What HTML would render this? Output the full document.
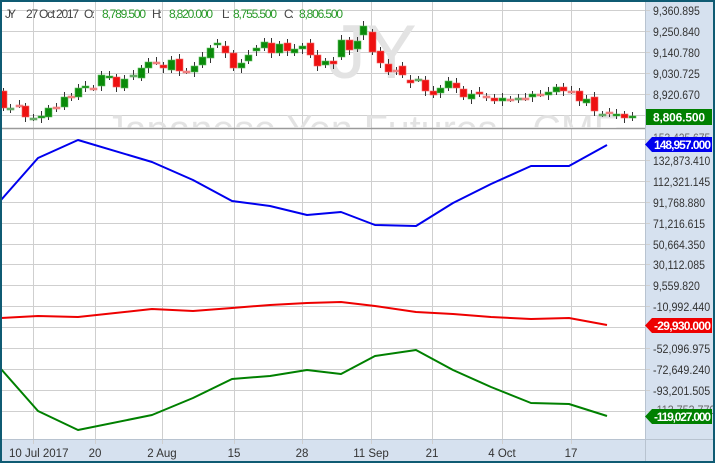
<!DOCTYPE html>
<html><head><meta charset="utf-8"><style>
html,body{margin:0;padding:0;background:#fff}
svg{display:block;font-family:"Liberation Sans",sans-serif}
</style></head><body>
<svg id="s" width="715" height="463" viewBox="0 0 715 463" xmlns="http://www.w3.org/2000/svg">
<rect x="0" y="0" width="715" height="463" fill="#fff"/>
<rect x="645" y="0" width="70" height="463" fill="#d6e1ef"/>
<rect x="0" y="439" width="715" height="24" fill="#d6e1ef"/>
<g id="grid" stroke="#cfcfcf" stroke-width="1"></g>
<line x1="0" y1="128.5" x2="645" y2="128.5" stroke="#9a9a9a" stroke-width="1.5"/>
<line x1="645.5" y1="0" x2="645.5" y2="463" stroke="#b8c3d0"/>
<line x1="0" y1="439.5" x2="715" y2="439.5" stroke="#b8c3d0"/>
<clipPath id="tp"><rect x="0" y="0" width="645" height="128"/></clipPath>
<g clip-path="url(#tp)" fill="#e3e3e3">
<text x="328" y="78" font-size="76">JY</text>
<text x="105" y="143" font-size="40" textLength="515" lengthAdjust="spacingAndGlyphs">Japanese Yen Futures - CME</text>
</g>
<g id="candles"></g>
<g fill="none" stroke-width="2" stroke-linejoin="round">
<polyline stroke="#0000ee" points="1,200 38,158 78,140 152,162 193,180 232,201 270,206 307,215 341,212 375,225 416,226 453,203 491,184 531,166 569,166 607,145"/>
<polyline stroke="#ee0000" points="1,318 38,316 78,317 152,309 193,311 232,308 270,305 307,303 341,302 375,306 416,312 453,314 491,317 531,319 569,318 607,325"/>
<polyline stroke="#008000" points="1,369 38,411 78,430 152,415 193,398 232,379 270,376 307,370 341,374 375,356 416,350 453,370 491,387 531,403 569,404 607,416"/>
</g>
<g id="labels" font-size="11.5" fill="#333"></g>
<g font-size="12" lengthAdjust="spacingAndGlyphs">
<text x="5" y="18" fill="#444" textLength="11">JY</text>
<text x="26" y="18" fill="#444" textLength="53">27 Oct 2017</text>
<text x="84" y="18" fill="#444" textLength="11">O:</text>
<text x="102" y="18" fill="#2a9a2a" textLength="44">8,789.500</text>
<text x="152" y="18" fill="#444" textLength="10">H:</text>
<text x="169" y="18" fill="#2a9a2a" textLength="44">8,820.000</text>
<text x="222" y="18" fill="#444" textLength="8">L:</text>
<text x="233" y="18" fill="#2a9a2a" textLength="44">8,755.500</text>
<text x="284" y="18" fill="#444" textLength="10">C:</text>
<text x="299" y="18" fill="#2a9a2a" textLength="44">8,806.500</text>
</g>
<g font-size="12" font-weight="bold" fill="#fff" lengthAdjust="spacingAndGlyphs">
<rect x="646" y="109" width="66" height="16" fill="#008000"/>
<text x="653" y="121.5" textLength="52">8,806.500</text>
<polygon points="652,137 712,137 712,152 652,152 645,144.5" fill="#0000ee"/>
<text x="654" y="149" textLength="57">148,957.000</text>
<polygon points="652,318 712,318 712,333 652,333 645,325.5" fill="#ee0000"/>
<text x="654" y="330" textLength="57">-29,930.000</text>
<polygon points="652,409 712,409 712,424 652,424 645,416.5" fill="#008000"/>
<text x="654" y="421" textLength="57">-119,027.000</text>
</g>
<rect x="1" y="1" width="713" height="461" fill="none" stroke="#0f5b73" stroke-width="2"/>
</svg>
<script>
var NS="http://www.w3.org/2000/svg";
function el(p,t,a,txt){var e=document.createElementNS(NS,t);for(var k in a)e.setAttribute(k,a[k]);if(txt!==undefined)e.textContent=txt;p.appendChild(e);return e;}
var g=document.getElementById("grid"),lb=document.getElementById("labels");
function lab(x,y,s,fill){var w=s.length*5.2;el(lb,"text",{x:x,y:y,textLength:w,lengthAdjust:"spacingAndGlyphs",fill:fill||"#333"},s);}
var vx=[33,95,162,234,302,371,432,502,571],vl=["10 Jul 2017","20","2 Aug","15","28","11 Sep","21","4 Oct","17"];
vx.forEach(function(x,i){el(g,"line",{x1:x+.5,y1:0,x2:x+.5,y2:444});el(lb,"text",{x:x,y:457,"text-anchor":i==0?"start":"middle",dx:i==0?-24:0},vl[i]);});
var ty=[10,31,52,73,94,115],tl=["9,360.895","9,250.840","9,140.780","9,030.725","8,920.670",""];
ty.forEach(function(y,i){el(g,"line",{x1:0,y1:y+.5,x2:650,y2:y+.5});if(tl[i])lab(653,y+5,tl[i]);});
var ll=["153,425.675","132,873.410","112,321.145","91,768.880","71,216.615","50,664.350","30,112.085","9,559.820","-10,992.440","","-52,096.975","-72,649.240","-93,201.505","-113,753.770"];
for(var i=0;i<14;i++){var y=Math.round(139+i*20.9);el(g,"line",{x1:0,y1:y+.5,x2:650,y2:y+.5});if(ll[i]&&i!=0&&i!=13)lab(653,y+5,ll[i]);}
lab(653,142,"153,425.675","#666");
lab(653,414,"-113,753.770","#666");
var C=[[3,"r",91,108],[10,"l",108,108],[19,"p",105,105],[25,"r",106,117],[33,"l",118,118],[41,"g",116,118],[48,"g",108,117],[56,"p",107,107],[64,"g",97,107],[71,"p",96,96],[78,"g",88,97],[85,"g",86,87],[93,"p",88,88],[101,"g",75,86],[109,"g",76,77],[116,"r",77,87],[124,"g",79,88],[133,"l",75,75],[141,"g",68,78],[148,"g",62,68],[156,"p",62,62],[163,"r",65,68],[171,"g",60,70],[179,"r",59,71],[186,"p",71,71],[194,"g",66,72],[202,"g",57,65],[210,"g",48,58],[217,"g",43,45],[225,"r",46,53],[233,"r",53,68],[241,"g",63,68],[248,"g",55,61],[256,"g",48,51],[264,"g",42,48],[271,"r",43,53],[279,"g",44,53],[287,"r",43,51],[294,"g",49,53],[302,"g",46,49],[310,"r",43,55],[317,"r",55,66],[325,"g",61,65],[333,"r",61,64],[341,"g",40,57],[349,"r",40,50],[357,"g",41,49],[363,"g",26,35],[372,"r",32,52],[380,"r",51,63],[388,"r",64,72],[396,"p",70,70],[402,"r",66,75],[410,"r",80,83],[418,"l",79,79],[425,"r",80,91],[433,"r",91,95],[440,"g",88,93],[448,"g",81,88],[456,"r",83,88],[463,"r",89,97],[471,"g",94,99],[479,"r",92,94],[486,"p",96,96],[494,"r",98,101],[502,"g",98,101],[510,"p",99,99],[518,"l",98,98],[525,"p",98,98],[532,"g",94,97],[540,"p",94,94],[548,"g",92,95],[556,"g",87,92],[563,"r",87,91],[571,"p",91,91],[579,"r",91,101],[586,"g",99,103],[594,"r",97,111],[602,"l",114,114],[609,"p",112,112],[616,"g",114,116],[624,"r",114,118],[632,"g",116,118]];
var cg=document.getElementById("candles");
C.forEach(function(c,i){var x=c[0],t=c[2],b=c[3];var wt=t-3-(i%3),wb=b+3+(i%2)*2;
el(cg,"line",{x1:x+.5,y1:wt,x2:x+.5,y2:wb,stroke:"#333","stroke-width":1});
var col={g:"#0a8a0a",r:"#ee1111",p:"#f08080",l:"#66aa66"}[c[1]];
var h=Math.max(b-t,2);el(cg,"rect",{x:x-3,y:t,width:7,height:h,fill:col,stroke:c[1]=="g"?"#5fbf5f":(c[1]=="r"?"#f26a6a":col),"stroke-width":.6});});
</script>
</body></html>
